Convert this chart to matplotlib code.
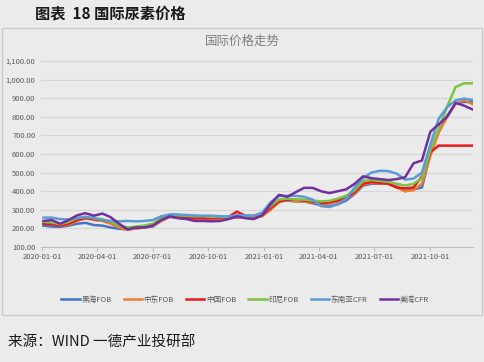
import pandas as pd
import matplotlib.pyplot as plt
import matplotlib.dates as mdates
from matplotlib.patches import Rectangle
from matplotlib.ticker import FuncFormatter

plt.rcParams['font.family'] = ['Noto Sans CJK SC', 'DejaVu Sans']

# biweekly samples, 2020-01-03 .. 2021-12-10
dates = pd.date_range('2020-01-03', '2021-12-10', periods=52)

black_sea = [215, 210, 208, 215, 225, 230, 218, 215, 205, 198, 195, 200, 205,
             210, 240, 262, 258, 255, 255, 258, 255, 252, 255, 258, 262, 262,
             270, 310, 345, 350, 345, 345, 335, 325, 320, 330, 350, 385, 430,
             440, 440, 440, 425, 400, 410, 420, 600, 730, 805, 870, 880, 880]
middle_east = [230, 225, 215, 220, 240, 255, 245, 240, 225, 205, 192, 200, 205,
               212, 240, 262, 258, 255, 255, 250, 248, 250, 255, 260, 258, 258,
               265, 300, 340, 355, 345, 345, 340, 332, 335, 345, 360, 390, 435,
               445, 442, 440, 420, 400, 405, 440, 590, 715, 800, 870, 890, 868]
china = [225, 222, 215, 225, 245, 255, 250, 245, 235, 215, 200, 205, 210,
         220, 250, 265, 262, 260, 255, 255, 255, 258, 262, 290, 268, 265,
         272, 310, 345, 355, 355, 350, 345, 335, 340, 350, 365, 395, 440,
         450, 445, 440, 420, 415, 420, 480, 610, 645, 645, 645, 645, 645]
indonesia = [235, 232, 222, 235, 255, 262, 255, 250, 235, 215, 205, 210, 215,
             225, 255, 272, 270, 268, 265, 265, 262, 262, 262, 268, 268, 268,
             280, 320, 355, 360, 355, 355, 350, 345, 348, 360, 375, 405, 455,
             460, 455, 450, 440, 430, 440, 470, 620, 735, 855, 960, 980, 980]
se_asia = [258, 258, 250, 248, 255, 262, 255, 245, 240, 238, 240, 238, 240,
           245, 265, 275, 275, 272, 270, 268, 268, 265, 265, 270, 270, 268,
           285, 340, 375, 375, 375, 370, 355, 320, 315, 330, 360, 420, 470,
           500, 510, 508, 495, 462, 468, 500, 650, 790, 852, 888, 898, 890]
us_gulf = [240, 245, 225, 245, 270, 282, 268, 280, 260, 225, 195, 205, 205,
           215, 245, 265, 255, 250, 240, 240, 238, 240, 250, 265, 255, 250,
           270, 330, 380, 370, 395, 418, 418, 400, 390, 400, 410, 440, 480,
           470, 465, 460, 465, 475, 550, 565, 720, 760, 800, 875, 860, 840]

series = [
    ('黑海FOB', black_sea, '#4472C4'),
    ('中东FOB', middle_east, '#ED7D31'),
    ('中国FOB', china, '#E8191C'),
    ('印尼FOB', indonesia, '#7DC241'),
    ('东南亚CFR', se_asia, '#5B9BD5'),
    ('美湾CFR', us_gulf, '#7030A0'),
]
ticks = pd.date_range('2020-01-01', '2021-10-01', freq='QS')

bg = '#EBEBEB'
fig = plt.figure(figsize=(4.84, 3.62), dpi=100, facecolor=bg)
fig.patches.append(Rectangle((2 / 484, 1 - 315 / 362), 480 / 484, 287 / 362,
                             transform=fig.transFigure, fill=False,
                             edgecolor='#C9C9C9', linewidth=1.0))
ax = fig.add_axes([41 / 484, 1 - 247 / 362, 432 / 484, 186 / 362])
ax.set_facecolor(bg)

for name, vals, color in series:
    ax.plot(dates, vals, color=color, linewidth=1.8, label=name)

ax.set_ylim(100, 1100)
ax.set_yticks(range(100, 1101, 100))
ax.yaxis.set_major_formatter(FuncFormatter(lambda v, p: f'{v:,.2f}'))
ax.set_xlim(pd.Timestamp('2019-12-30'), pd.Timestamp('2021-12-11'))
ax.set_xticks(ticks)
ax.xaxis.set_major_formatter(mdates.DateFormatter('%Y-%m-%d'))
ax.grid(axis='y', color='#D6D6D6', linewidth=0.8)
ax.set_axisbelow(True)
for s in ['top', 'right', 'left']:
    ax.spines[s].set_visible(False)
ax.spines['bottom'].set_color('#BFBFBF')
ax.tick_params(axis='y', length=0, labelsize=5.5, labelcolor='#595959', pad=4)
ax.tick_params(axis='x', length=3, color='#BFBFBF', labelsize=5.5,
               labelcolor='#595959', pad=1.5)

fig.text(242 / 484, 1 - 41 / 362, '国际价格走势', ha='center', va='center',
         fontsize=9, color='#808080')
fig.text(35 / 484, 1 - 13 / 362, '图表  18 国际尿素价格', ha='left', va='center',
         fontsize=11, fontweight='bold', color='#1A1A1A')
fig.text(8 / 484, 1 - 343 / 362, '来源：WIND 一德产业投研部', ha='left', va='center',
         fontsize=10.5, color='#1A1A1A')

fig.legend(loc='center', bbox_to_anchor=(245 / 484, 1 - 300 / 362), ncol=6,
           frameon=False, fontsize=5.5, handlelength=2.4, handletextpad=0.2,
           columnspacing=1.6, labelcolor='#595959')

fig.savefig('out.png', dpi=100, facecolor=bg)
